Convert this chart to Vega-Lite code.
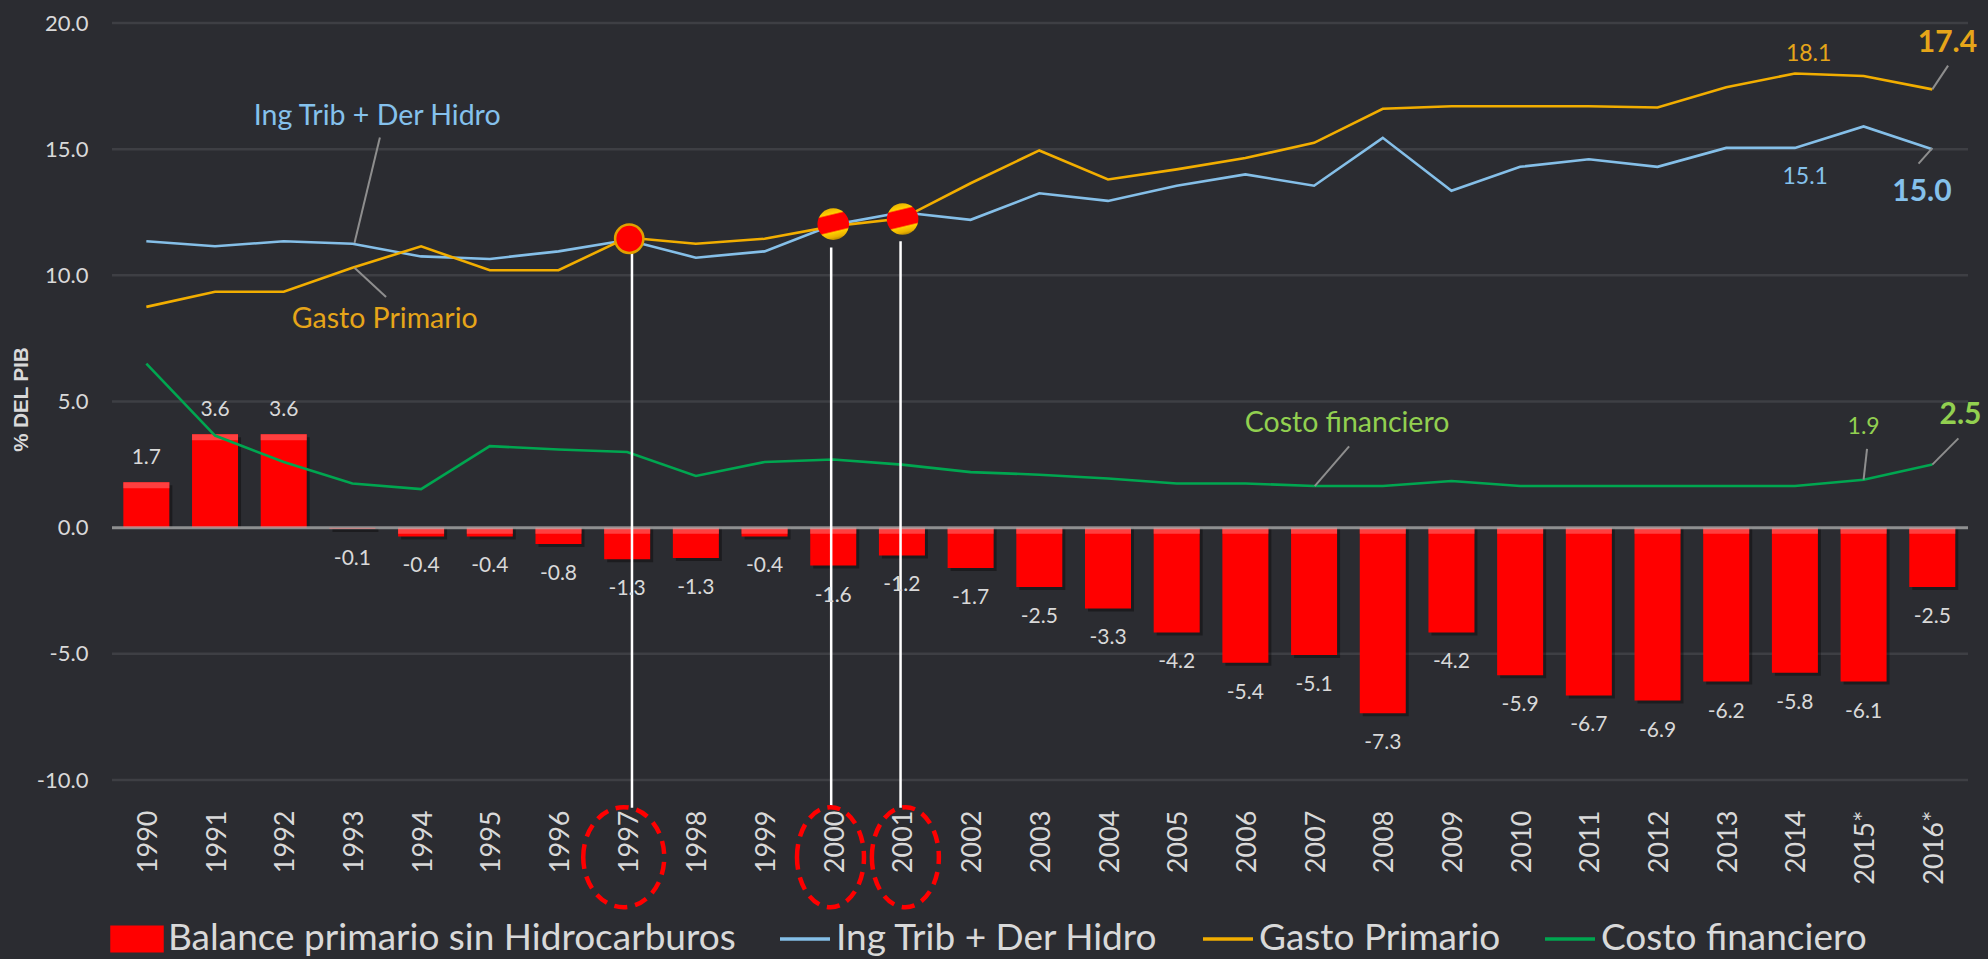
{
"$schema":"https://vega.github.io/schema/vega-lite/v6.json",
"width":1856,"height":757,
"autosize":"none",
"padding":{"left":112,"top":23,"right":20,"bottom":179},
"background":"#2b2c31",
"view":{"stroke":null},
"config":{"font":"Lato"},
"datasets":{
"bal":[
{"year":1990,"value":1.8,"label":"1.7"},{"year":1991,"value":3.7,"label":"3.6"},{"year":1992,"value":3.7,"label":"3.6"},{"year":1993,"value":-0.05,"label":"-0.1"},{"year":1994,"value":-0.35,"label":"-0.4"},{"year":1995,"value":-0.35,"label":"-0.4"},{"year":1996,"value":-0.65,"label":"-0.8"},{"year":1997,"value":-1.25,"label":"-1.3"},{"year":1998,"value":-1.2,"label":"-1.3"},{"year":1999,"value":-0.35,"label":"-0.4"},{"year":2000,"value":-1.5,"label":"-1.6"},{"year":2001,"value":-1.1,"label":"-1.2"},{"year":2002,"value":-1.6,"label":"-1.7"},{"year":2003,"value":-2.35,"label":"-2.5"},{"year":2004,"value":-3.2,"label":"-3.3"},{"year":2005,"value":-4.15,"label":"-4.2"},{"year":2006,"value":-5.35,"label":"-5.4"},{"year":2007,"value":-5.05,"label":"-5.1"},{"year":2008,"value":-7.35,"label":"-7.3"},{"year":2009,"value":-4.15,"label":"-4.2"},{"year":2010,"value":-5.85,"label":"-5.9"},{"year":2011,"value":-6.65,"label":"-6.7"},{"year":2012,"value":-6.85,"label":"-6.9"},{"year":2013,"value":-6.1,"label":"-6.2"},{"year":2014,"value":-5.75,"label":"-5.8"},{"year":2015,"value":-6.1,"label":"-6.1"},{"year":2016,"value":-2.35,"label":"-2.5"}],
"lines":[
{"year":1990,"s":"Ing Trib + Der Hidro","value":11.35},{"year":1991,"s":"Ing Trib + Der Hidro","value":11.15},{"year":1992,"s":"Ing Trib + Der Hidro","value":11.35},{"year":1993,"s":"Ing Trib + Der Hidro","value":11.25},{"year":1994,"s":"Ing Trib + Der Hidro","value":10.75},{"year":1995,"s":"Ing Trib + Der Hidro","value":10.65},{"year":1996,"s":"Ing Trib + Der Hidro","value":10.95},{"year":1997,"s":"Ing Trib + Der Hidro","value":11.4},{"year":1998,"s":"Ing Trib + Der Hidro","value":10.7},{"year":1999,"s":"Ing Trib + Der Hidro","value":10.95},{"year":2000,"s":"Ing Trib + Der Hidro","value":12.0},{"year":2001,"s":"Ing Trib + Der Hidro","value":12.5},{"year":2002,"s":"Ing Trib + Der Hidro","value":12.2},{"year":2003,"s":"Ing Trib + Der Hidro","value":13.25},{"year":2004,"s":"Ing Trib + Der Hidro","value":12.95},{"year":2005,"s":"Ing Trib + Der Hidro","value":13.55},{"year":2006,"s":"Ing Trib + Der Hidro","value":14.0},{"year":2007,"s":"Ing Trib + Der Hidro","value":13.55},{"year":2008,"s":"Ing Trib + Der Hidro","value":15.45},{"year":2009,"s":"Ing Trib + Der Hidro","value":13.35},{"year":2010,"s":"Ing Trib + Der Hidro","value":14.3},{"year":2011,"s":"Ing Trib + Der Hidro","value":14.6},{"year":2012,"s":"Ing Trib + Der Hidro","value":14.3},{"year":2013,"s":"Ing Trib + Der Hidro","value":15.05},{"year":2014,"s":"Ing Trib + Der Hidro","value":15.05},{"year":2015,"s":"Ing Trib + Der Hidro","value":15.9},{"year":2016,"s":"Ing Trib + Der Hidro","value":15.0},
{"year":1990,"s":"Gasto Primario","value":8.75},{"year":1991,"s":"Gasto Primario","value":9.35},{"year":1992,"s":"Gasto Primario","value":9.35},{"year":1993,"s":"Gasto Primario","value":10.3},{"year":1994,"s":"Gasto Primario","value":11.15},{"year":1995,"s":"Gasto Primario","value":10.2},{"year":1996,"s":"Gasto Primario","value":10.2},{"year":1997,"s":"Gasto Primario","value":11.5},{"year":1998,"s":"Gasto Primario","value":11.25},{"year":1999,"s":"Gasto Primario","value":11.45},{"year":2000,"s":"Gasto Primario","value":11.95},{"year":2001,"s":"Gasto Primario","value":12.25},{"year":2002,"s":"Gasto Primario","value":13.65},{"year":2003,"s":"Gasto Primario","value":14.95},{"year":2004,"s":"Gasto Primario","value":13.8},{"year":2005,"s":"Gasto Primario","value":14.2},{"year":2006,"s":"Gasto Primario","value":14.65},{"year":2007,"s":"Gasto Primario","value":15.25},{"year":2008,"s":"Gasto Primario","value":16.6},{"year":2009,"s":"Gasto Primario","value":16.7},{"year":2010,"s":"Gasto Primario","value":16.7},{"year":2011,"s":"Gasto Primario","value":16.7},{"year":2012,"s":"Gasto Primario","value":16.65},{"year":2013,"s":"Gasto Primario","value":17.45},{"year":2014,"s":"Gasto Primario","value":18.0},{"year":2015,"s":"Gasto Primario","value":17.9},{"year":2016,"s":"Gasto Primario","value":17.37},
{"year":1990,"s":"Costo financiero","value":6.5},{"year":1991,"s":"Costo financiero","value":3.65},{"year":1992,"s":"Costo financiero","value":2.6},{"year":1993,"s":"Costo financiero","value":1.75},{"year":1994,"s":"Costo financiero","value":1.53},{"year":1995,"s":"Costo financiero","value":3.23},{"year":1996,"s":"Costo financiero","value":3.1},{"year":1997,"s":"Costo financiero","value":3.0},{"year":1998,"s":"Costo financiero","value":2.05},{"year":1999,"s":"Costo financiero","value":2.6},{"year":2000,"s":"Costo financiero","value":2.7},{"year":2001,"s":"Costo financiero","value":2.5},{"year":2002,"s":"Costo financiero","value":2.2},{"year":2003,"s":"Costo financiero","value":2.1},{"year":2004,"s":"Costo financiero","value":1.95},{"year":2005,"s":"Costo financiero","value":1.75},{"year":2006,"s":"Costo financiero","value":1.75},{"year":2007,"s":"Costo financiero","value":1.65},{"year":2008,"s":"Costo financiero","value":1.65},{"year":2009,"s":"Costo financiero","value":1.85},{"year":2010,"s":"Costo financiero","value":1.65},{"year":2011,"s":"Costo financiero","value":1.65},{"year":2012,"s":"Costo financiero","value":1.65},{"year":2013,"s":"Costo financiero","value":1.65},{"year":2014,"s":"Costo financiero","value":1.65},{"year":2015,"s":"Costo financiero","value":1.9},{"year":2016,"s":"Costo financiero","value":2.5}],
"leaders":[
{"id":"a","year":1993.4,"value":15.46},{"id":"a","year":1993.03,"value":11.28},
{"id":"b","year":1993.03,"value":10.3},{"id":"b","year":1993.49,"value":9.14},
{"id":"c","year":2016,"value":17.37},{"id":"c","year":2016.23,"value":18.31},
{"id":"d","year":2016,"value":15.04},{"id":"d","year":2015.8,"value":14.43},
{"id":"e","year":2015,"value":1.9},{"id":"e","year":2015.05,"value":3.12},
{"id":"f","year":2016,"value":2.5},{"id":"f","year":2016.38,"value":3.54},
{"id":"g","year":2007.01,"value":1.65},{"id":"g","year":2007.51,"value":3.22}],
"vlines":[{"year":1997.07,"top":11.15,"bottom":-11.1},{"year":1999.97,"top":11.1,"bottom":-11.1},{"year":2000.98,"top":11.35,"bottom":-11.1}],
"notes":[
{"t":"Ing Trib + Der Hidro","year":1993.36,"value":16.33,"k":"blue"},
{"t":"Gasto Primario","year":1993.47,"value":8.25,"k":"gold"},
{"t":"Costo financiero","year":2007.48,"value":4.14,"k":"green"},
{"t":"18.1","year":2014.2,"value":18.78,"k":"gold"},
{"t":"15.1","year":2014.15,"value":13.9,"k":"blue"},
{"t":"1.9","year":2015.0,"value":3.98,"k":"green"}],
"bold":[
{"t":"17.4","year":2016.22,"value":19.2,"k":"gold"},
{"t":"15.0","year":2015.85,"value":13.3,"k":"blue"},
{"t":"2.5","year":2016.41,"value":4.45,"k":"green"}]
},
"encoding":{
"x":{"type":"quantitative","scale":{"domain":[1989.5,2016.52],"nice":false,"zero":false,"padding":0}},
"y":{"type":"quantitative","scale":{"domain":[-10,20],"nice":false}}
},
"layer":[
{"data":{"values":[{"value":20},{"value":15},{"value":10},{"value":5},{"value":-5},{"value":-10}]},
 "mark":{"type":"rule","color":"#3e3f44","strokeWidth":2.5},
 "encoding":{"y":{"field":"value","type":"quantitative","title":"% DEL PIB","axis":{"values":[-10,-5,0,5,10,15,20],"format":".1f","labelExpr":"replace(datum.label,'\u2212','-')","grid":false,"domain":false,"ticks":false,"labelFont":"Lato","labelFontSize":22,"labelColor":"#d9d9d9","labelPadding":24,"titleFont":"Liberation Sans","titleFontWeight":"bold","titleFontSize":20.5,"titleColor":"#d9d9d9","titleX":-81,"titleY":376}}}},
{"data":{"name":"bal"},"mark":{"type":"bar","width":46,"color":"#000000","opacity":0.35,"xOffset":3,"yOffset":3},
 "encoding":{"x":{"field":"year"},"y":{"field":"value","stack":null}}},
{"data":{"name":"bal"},"mark":{"type":"bar","width":46,"color":"#ff0000"},
 "encoding":{"x":{"field":"year","title":null,"axis":{"values":[1990,1991,1992,1993,1994,1995,1996,1997,1998,1999,2000,2001,2002,2003,2004,2005,2006,2007,2008,2009,2010,2011,2012,2013,2014,2015,2016],"labelExpr":"datum.value>=2015 ? datum.value+'*' : ''+datum.value","labelAngle":-90,"labelAlign":"right","labelBaseline":"middle","labelFont":"Lato","labelFontSize":27,"labelColor":"#d9d9d9","labelPadding":30,"labelOffset":2,"grid":false,"domain":false,"ticks":false,"labelOverlap":false,"orient":"bottom"}},
 "y":{"field":"value","stack":null}}},
{"data":{"name":"bal"},"transform":[{"filter":"datum.value>0"}],"mark":{"type":"tick","orient":"horizontal","size":46,"thickness":6,"color":"#ff5a5a","yOffset":3},"encoding":{"x":{"field":"year"},"y":{"field":"value"}}},
{"data":{"name":"bal"},"transform":[{"filter":"datum.value<-0.2"}],"mark":{"type":"tick","orient":"horizontal","size":46,"thickness":6,"color":"#ff5a5a","yOffset":3},"encoding":{"x":{"field":"year"},"y":{"datum":0}}},
{"data":{"values":[{"value":0}]},"mark":{"type":"rule","color":"#b0b0b0","opacity":0.75,"strokeWidth":3},"encoding":{"y":{"field":"value"}}},
{"data":{"name":"lines"},"mark":{"type":"line","strokeWidth":2.6},
 "encoding":{"x":{"field":"year"},"y":{"field":"value"},
 "color":{"field":"s","type":"nominal","scale":{"domain":["Balance primario sin Hidrocarburos","Ing Trib + Der Hidro","Gasto Primario","Costo financiero"],"range":["#ff0000","#85bfe8","#f2ae00","#00a650"]},
 "legend":{"title":null,"orient":"none","legendX":-2,"legendY":896,"direction":"horizontal","columns":4,"gridAlign":"none","columnPadding":42,"symbolType":"stroke","symbolSize":2500,"symbolStrokeWidth":3.5,"labelFont":"Lato","labelFontSize":37,"labelColor":"#d9d9d9","labelOffset":4,"labelLimit":700,"clipHeight":40,
 "encode":{"symbols":{"update":{"shape":{"signal":"datum.value==='Balance primario sin Hidrocarburos' ? 'M-1,-0.47H1V0.47H-1Z' : 'stroke'"},"fill":{"signal":"datum.value==='Balance primario sin Hidrocarburos' ? '#ff0000' : 'transparent'"}}}}}}}},
{"data":{"name":"leaders"},"mark":{"type":"line","color":"#8e8e8e","strokeWidth":2},"encoding":{"x":{"field":"year"},"y":{"field":"value"},"detail":{"field":"id"}}},
{"data":{"name":"vlines"},"mark":{"type":"rule","color":"#ffffff","strokeWidth":2.5},"encoding":{"x":{"field":"year"},"y":{"field":"top"},"y2":{"field":"bottom"}}},
{"data":{"values":[{"year":1997.03,"value":11.45}]},"mark":{"type":"point","filled":true,"size":800,"fill":"#ff0000","stroke":"#e0a000","strokeWidth":2.5,"opacity":1},"encoding":{"x":{"field":"year"},"y":{"field":"value"}}},
{"data":{"values":[{"year":2000.0,"value":12.03},{"year":2001.01,"value":12.23}]},"mark":{"type":"point","filled":true,"size":1000,"opacity":1,"strokeWidth":0,"fill":{"gradient":"linear","x1":0.38,"y1":0,"x2":0.62,"y2":1,"stops":[{"offset":0,"color":"#e8b000"},{"offset":0.18,"color":"#ffd000"},{"offset":0.23,"color":"#ff0000"},{"offset":0.7,"color":"#ff0000"},{"offset":0.75,"color":"#ffd000"},{"offset":0.9,"color":"#e8b000"},{"offset":1,"color":"#a87c00"}]}},"encoding":{"x":{"field":"year"},"y":{"field":"value"}}},
{"data":{"values":[{"year":1996.95,"value":-13.06}]},"mark":{"type":"point","shape":"M-0.81,0A0.81,1,0,1,1,0.81,0A0.81,1,0,1,1,-0.81,0Z","size":10000,"filled":false,"stroke":"#ff0000","strokeWidth":4.5,"strokeDash":[13,8],"opacity":1},"encoding":{"x":{"field":"year"},"y":{"field":"value"}}},
{"data":{"values":[{"year":1999.96,"value":-13.06},{"year":2001.05,"value":-13.06}]},"mark":{"type":"point","shape":"M-0.67,0A0.67,1,0,1,1,0.67,0A0.67,1,0,1,1,-0.67,0Z","size":10000,"filled":false,"stroke":"#ff0000","strokeWidth":4.5,"strokeDash":[13,8],"opacity":1},"encoding":{"x":{"field":"year"},"y":{"field":"value"}}},
{"data":{"name":"bal"},"transform":[{"filter":"datum.value>0"}],"mark":{"type":"text","fontSize":21,"color":"#d9d9d9","dy":-24,"font":"Lato"},"encoding":{"x":{"field":"year"},"y":{"field":"value"},"text":{"field":"label"}}},
{"data":{"name":"bal"},"transform":[{"filter":"datum.value<0"}],"mark":{"type":"text","fontSize":21,"color":"#d9d9d9","dy":30,"font":"Lato"},"encoding":{"x":{"field":"year"},"y":{"field":"value"},"text":{"field":"label"}}},
{"data":{"name":"notes"},"transform":[{"filter":"length(datum.t)>4"}],"mark":{"type":"text","fontSize":28.5,"font":"Lato"},"encoding":{"x":{"field":"year"},"y":{"field":"value"},"text":{"field":"t"},"color":{"field":"k","scale":{"domain":["blue","gold","green"],"range":["#85c1ec","#e6a519","#92d050"]},"legend":null}}},
{"data":{"name":"notes"},"transform":[{"filter":"length(datum.t)<=4"}],"mark":{"type":"text","fontSize":23,"font":"Lato"},"encoding":{"x":{"field":"year"},"y":{"field":"value"},"text":{"field":"t"},"color":{"field":"k","scale":{"domain":["blue","gold","green"],"range":["#85c1ec","#e6a519","#92d050"]},"legend":null}}},
{"data":{"name":"bold"},"mark":{"type":"text","fontSize":30,"fontWeight":"bold","font":"Lato"},"encoding":{"x":{"field":"year"},"y":{"field":"value"},"text":{"field":"t"},"color":{"field":"k","scale":{"domain":["blue","gold","green"],"range":["#85c1ec","#e6a519","#92d050"]},"legend":null}}}
],
"resolve":{"scale":{"color":"independent"}}
}
